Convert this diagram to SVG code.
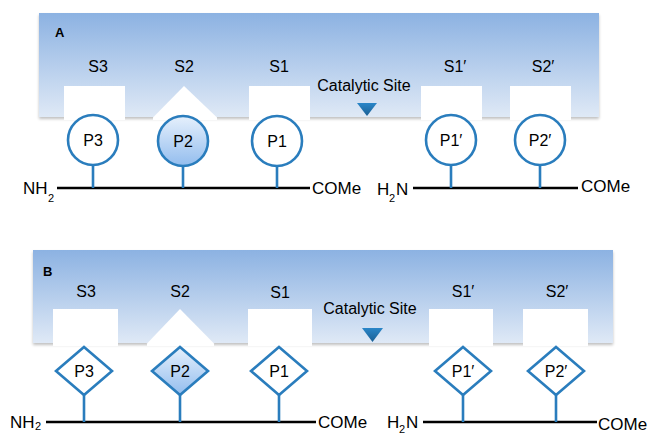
<svg xmlns="http://www.w3.org/2000/svg" width="654" height="434" viewBox="0 0 654 434">
<defs>
<linearGradient id="panel" x1="0" y1="0" x2="0" y2="1">
<stop offset="0" stop-color="#8cb2e2"/>
<stop offset="1" stop-color="#dfe9f6"/>
</linearGradient>
<linearGradient id="pfill" x1="0" y1="0" x2="0" y2="1">
<stop offset="0" stop-color="#e6f0fc"/>
<stop offset="1" stop-color="#93bdee"/>
</linearGradient>
<linearGradient id="tri" x1="0" y1="0" x2="0" y2="1">
<stop offset="0" stop-color="#2a86c8"/>
<stop offset="1" stop-color="#1a5f94"/>
</linearGradient>
<filter id="sh" x="-5%" y="-10%" width="110%" height="125%">
<feGaussianBlur in="SourceAlpha" stdDeviation="1.5"/>
<feOffset dx="0" dy="1.5"/>
<feComponentTransfer><feFuncA type="linear" slope="0.25"/></feComponentTransfer>
<feMerge><feMergeNode/><feMergeNode in="SourceGraphic"/></feMerge>
</filter>
</defs>
<style>
text{font-family:"Liberation Sans",Arial,sans-serif;fill:#000}
.lbl{font-size:16px;text-anchor:middle}
.cat{font-size:16px;text-anchor:middle}
.big{font-size:17px}
.sub{font-size:11px}
.tag{font-size:13px;font-weight:bold}
.node{fill:#fff;stroke:#2a7dbd;stroke-width:2.6}
.fillp{fill:url(#pfill)}
.stem{stroke:#2a7dbd;stroke-width:2.6}
.chain{stroke:#000;stroke-width:2.6}
.cut{fill:#fff}
</style>

<!-- Panel A -->
<g id="panelA">
<rect x="39" y="13" width="560" height="104" fill="url(#panel)" filter="url(#sh)"/>
<rect class="cut" x="64" y="86" width="61" height="34"/>
<polygon class="cut" points="153,117.5 184,86 217,117.5 217,120 153,120"/>
<rect class="cut" x="249" y="86" width="61" height="34"/>
<rect class="cut" x="421" y="86" width="61" height="34"/>
<rect class="cut" x="510" y="86" width="61" height="34"/>
<text class="tag" x="55" y="37">A</text>
<text class="lbl" x="98" y="72">S3</text>
<text class="lbl" x="184" y="72">S2</text>
<text class="lbl" x="279" y="72">S1</text>
<text class="lbl" x="455" y="72">S1′</text>
<text class="lbl" x="543" y="72">S2′</text>
<text class="cat" x="364" y="91">Catalytic Site</text>
<polygon points="357,103 377,103 367,116" fill="url(#tri)"/>
</g>

<g id="connectorsA">
<line class="chain" x1="57" y1="188" x2="310" y2="188"/>
<line class="chain" x1="413" y1="188" x2="578" y2="188"/>
<line class="stem" x1="93" y1="165" x2="93" y2="188"/>
<line class="stem" x1="183" y1="165" x2="183" y2="188"/>
<line class="stem" x1="277" y1="165" x2="277" y2="188"/>
<line class="stem" x1="451" y1="165" x2="451" y2="188"/>
<line class="stem" x1="540" y1="165" x2="540" y2="188"/>
</g>

<g id="A_P3"><circle class="node" cx="93" cy="140" r="25"/><text class="lbl" x="93" y="146">P3</text></g>
<g id="A_P2"><circle class="node fillp" cx="183" cy="141" r="25"/><text class="lbl" x="183" y="147">P2</text></g>
<g id="A_P1"><circle class="node" cx="277" cy="141" r="25"/><text class="lbl" x="277" y="147">P1</text></g>
<g id="A_P1p"><circle class="node" cx="451" cy="140" r="25"/><text class="lbl" x="451" y="146">P1′</text></g>
<g id="A_P2p"><circle class="node" cx="540" cy="140" r="25"/><text class="lbl" x="540" y="146">P2′</text></g>

<g id="A_ends">
<text class="big" x="23" y="194">NH</text><text class="sub" x="48" y="202">2</text>
<text class="big" x="312" y="194">COMe</text>
<text class="big" x="377" y="195">H</text><text class="sub" x="389" y="202">2</text><text class="big" x="396" y="195">N</text>
<text class="big" x="581" y="192">COMe</text>
</g>

<!-- Panel B -->
<g id="panelB">
<rect x="33" y="250" width="580" height="93" fill="url(#panel)" filter="url(#sh)"/>
<rect class="cut" x="53" y="309" width="65" height="37"/>
<polygon class="cut" points="147,343.5 180,309 214,343.5 214,346 147,346"/>
<rect class="cut" x="248" y="309" width="64" height="37"/>
<rect class="cut" x="429" y="309" width="64" height="37"/>
<rect class="cut" x="523" y="309" width="65" height="37"/>
<text class="tag" x="43" y="276">B</text>
<text class="lbl" x="86" y="297">S3</text>
<text class="lbl" x="180" y="297">S2</text>
<text class="lbl" x="280" y="298">S1</text>
<text class="lbl" x="463" y="297">S1′</text>
<text class="lbl" x="557" y="297">S2′</text>
<text class="cat" x="370" y="314">Catalytic Site</text>
<polygon points="362,328 383,328 372.5,342" fill="url(#tri)"/>
</g>

<g id="connectorsB">
<line class="chain" x1="46" y1="422" x2="316" y2="422"/>
<line class="chain" x1="423" y1="422" x2="597" y2="422"/>
<line class="stem" x1="84" y1="395" x2="84" y2="422"/>
<line class="stem" x1="180" y1="395" x2="180" y2="422"/>
<line class="stem" x1="279" y1="395" x2="279" y2="422"/>
<line class="stem" x1="463" y1="395" x2="463" y2="422"/>
<line class="stem" x1="556" y1="395" x2="556" y2="422"/>
</g>

<g id="B_P3"><polygon class="node" points="84,347 112,371 84,395 56,371"/><text class="lbl" x="84" y="377">P3</text></g>
<g id="B_P2"><polygon class="node fillp" points="180,347 208,371 180,395 152,371"/><text class="lbl" x="180" y="377">P2</text></g>
<g id="B_P1"><polygon class="node" points="279,347 307,371 279,395 251,371"/><text class="lbl" x="279" y="377">P1</text></g>
<g id="B_P1p"><polygon class="node" points="463,347 491,371 463,395 435,371"/><text class="lbl" x="463" y="377">P1′</text></g>
<g id="B_P2p"><polygon class="node" points="556,347 584,371 556,395 528,371"/><text class="lbl" x="556" y="377">P2′</text></g>

<g id="B_ends">
<text class="big" x="10" y="428">NH</text><text class="sub" x="35" y="430">2</text>
<text class="big" x="318" y="428">COMe</text>
<text class="big" x="387" y="428">H</text><text class="sub" x="399" y="433">2</text><text class="big" x="406" y="428">N</text>
<text class="big" x="598" y="430">COMe</text>
</g>
</svg>
